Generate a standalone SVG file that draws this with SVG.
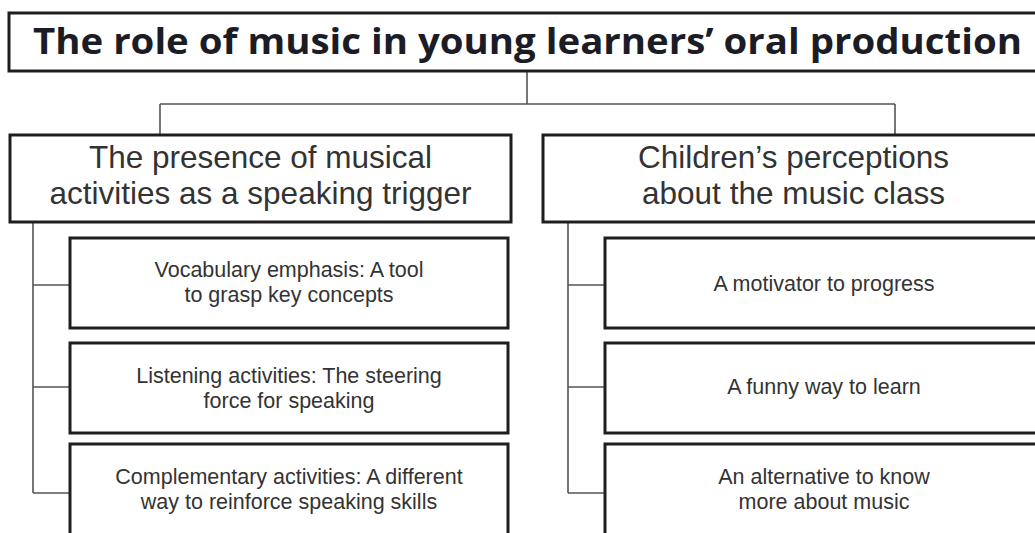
<svg xmlns="http://www.w3.org/2000/svg" width="1035" height="533" viewBox="0 0 1035 533">
<style>
.box{fill:#fff;stroke:#1e1e1e;stroke-width:3}
.conn{fill:none;stroke:#555;stroke-width:1.6}
.title{font-family:"Open Sans","Liberation Sans",sans-serif;font-weight:bold;font-size:35px;fill:#1c1c26;text-anchor:middle}
.head{font-family:"Liberation Sans",Arial,sans-serif;font-size:31.5px;fill:#333;text-anchor:middle}
.item{font-family:"Liberation Sans",Arial,sans-serif;font-size:21.5px;fill:#333;text-anchor:middle}
</style>
<rect width="1035" height="533" fill="#fff"/>
<g id="connectors">
<path class="conn" d="M527,71 V104 M160,104 H895 M160,104 V135 M895,104 V135"/>
<path class="conn" d="M33,222 V493 M33,285 H70 M33,387 H70 M33,493 H70"/>
<path class="conn" d="M568,222 V493 M568,285 H605 M568,387 H605 M568,493 H605"/>
</g>
<g id="title">
<rect class="box" x="9" y="13" width="1037" height="58"/>
<text class="title" x="527.5" y="54" textLength="989" lengthAdjust="spacingAndGlyphs">The role of music in young learners’ oral production</text>
</g>
<g id="head-left">
<rect class="box" x="10" y="135" width="501" height="87"/>
<text class="head" x="260.5" y="168"><tspan x="260.5">The presence of musical</tspan><tspan x="260.5" dy="36">activities as a speaking trigger</tspan></text>
</g>
<g id="head-right">
<rect class="box" x="543" y="135" width="501" height="87"/>
<text class="head" x="793.5" y="168"><tspan x="793.5">Children’s perceptions</tspan><tspan x="793.5" dy="36">about the music class</tspan></text>
</g>
<g id="left-1">
<rect class="box" x="70" y="238" width="438" height="90"/>
<text class="item" x="289" y="277"><tspan x="289">Vocabulary emphasis: A tool</tspan><tspan x="289" dy="24.5">to grasp key concepts</tspan></text>
</g>
<g id="left-2">
<rect class="box" x="70" y="343" width="438" height="90"/>
<text class="item" x="289" y="383"><tspan x="289">Listening activities: The steering</tspan><tspan x="289" dy="24.5">force for speaking</tspan></text>
</g>
<g id="left-3">
<rect class="box" x="70" y="444" width="438" height="100"/>
<text class="item" x="289" y="484"><tspan x="289">Complementary activities: A different</tspan><tspan x="289" dy="24.5">way to reinforce speaking skills</tspan></text>
</g>
<g id="right-1">
<rect class="box" x="605" y="238" width="438" height="90"/>
<text class="item" x="824" y="291">A motivator to progress</text>
</g>
<g id="right-2">
<rect class="box" x="605" y="343" width="438" height="90"/>
<text class="item" x="824" y="394">A funny way to learn</text>
</g>
<g id="right-3">
<rect class="box" x="605" y="444" width="438" height="100"/>
<text class="item" x="824" y="484"><tspan x="824">An alternative to know</tspan><tspan x="824" dy="24.5">more about music</tspan></text>
</g>
</svg>
